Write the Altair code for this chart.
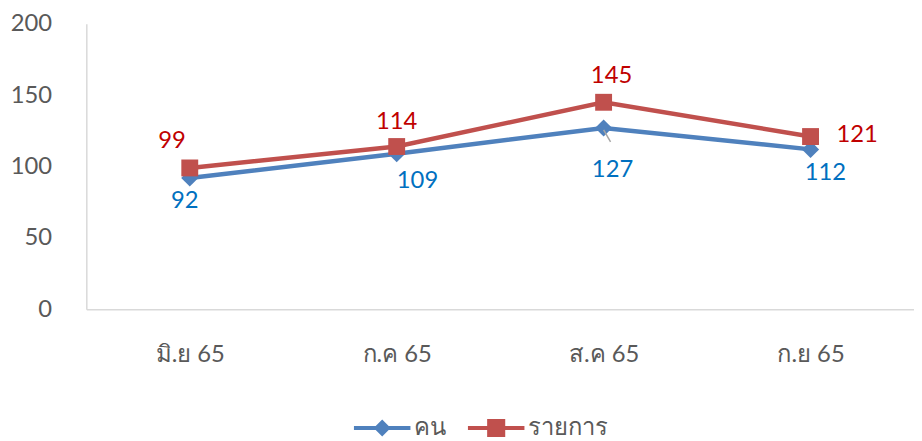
import altair as alt
import pandas as pd

months = ["มิ.ย 65", "ก.ค 65", "ส.ค 65", "ก.ย 65"]
people = [92, 109, 127, 112]      # คน
items = [99, 114, 145, 121]       # รายการ
series_names = ["คน", "รายการ"]
y_ticks = [0, 50, 100, 150, 200]

rows = []
for m, v in zip(months, people):
    rows.append({"month": m, "series": series_names[0], "value": v})
for m, v in zip(months, items):
    rows.append({"month": m, "series": series_names[1], "value": v})
df = pd.DataFrame(rows)

FONT = "Lato, Noto Sans, sans-serif"
line_colors = ["#4F81BD", "#C0504D"]
label_colors = {"คน": "#0070C0", "รายการ": "#C00000"}

diamond_legend = ("M-1,-0.07L1,-0.07L1,0.07L-1,0.07Z"
                  "M0,-0.3L0.3,0L0,0.3L-0.3,0Z")
square_legend = ("M-1,-0.07L1,-0.07L1,0.07L-1,0.07Z"
                 "M-0.32,-0.32L0.32,-0.32L0.32,0.32L-0.32,0.32Z")

legend = alt.Legend(
    title=None, orient="none", direction="horizontal",
    legendX=270, legendY=379,
    symbolSize=3249, symbolStrokeWidth=0, symbolOpacity=1,
    labelFont=FONT, labelFontSize=24, labelColor="#595959",
    labelOffset=4, columnPadding=22,
)

x_enc = alt.X("month:N", sort=months,
              scale=alt.Scale(type="point", padding=0.5),
              axis=alt.Axis(title=None, ticks=False, tickSize=0, labelAngle=0,
                            labelPadding=34, labelFont=FONT, labelFontSize=24,
                            labelColor="#595959", domainColor="#D9D9D9",
                            domainWidth=1.5, grid=False))
y_enc = alt.Y("value:Q",
              scale=alt.Scale(domain=[0, 200], nice=False),
              axis=alt.Axis(title=None, values=y_ticks, ticks=False, tickSize=0,
                            labelPadding=35, labelFont=FONT, labelFontSize=24,
                            labelColor="#595959", domainColor="#D9D9D9",
                            domainWidth=1.5, grid=False))

base = alt.Chart(df)
layers = []
for s, col, shape, size in [("คน", line_colors[0], "diamond", 300),
                            ("รายการ", line_colors[1], "square", 290)]:
    sub = base.transform_filter(alt.datum.series == s)
    layers.append(sub.mark_line(strokeWidth=4.5, color=col).encode(x=x_enc, y=y_enc))
    layers.append(sub.mark_point(shape=shape, size=size, filled=True, opacity=1, color=col)
                  .encode(x=x_enc, y=y_enc))

# legend-only layer (draws nothing: filtered to empty), shows line+marker symbols
legend_layer = (base.transform_filter("false")
                .mark_point(filled=True, opacity=1, size=3249, strokeWidth=0)
                .encode(x=x_enc, y=y_enc,
                        color=alt.Color("series:N", sort=series_names,
                                        scale=alt.Scale(domain=series_names, range=line_colors),
                                        legend=legend),
                        shape=alt.Shape("series:N", sort=series_names,
                                        scale=alt.Scale(domain=series_names,
                                                        range=[diamond_legend, square_legend]),
                                        legend=legend)))
layers.append(legend_layer)

# small leader line for the 127 label
layers.append(base.transform_filter((alt.datum.series == "คน") & (alt.datum.month == months[2]))
              .mark_rule(color="#A6A6A6", strokeWidth=1.5, yOffset=2, x2Offset=7, y2Offset=14)
              .encode(x=alt.X("month:N", sort=months), x2="month:N",
                      y="value:Q", y2="value:Q"))

def label(series, month, dx, dy):
    return (base.transform_filter((alt.datum.series == series) & (alt.datum.month == month))
            .mark_text(font=FONT, fontSize=24, dx=dx, dy=dy, color=label_colors[series],
                       align="center", baseline="middle")
            .encode(x=alt.X("month:N", sort=months), y="value:Q", text="value:Q"))

layers += [
    label("คน", months[0], -5, 23),
    label("คน", months[1], 21, 28),
    label("คน", months[2], 9, 42),
    label("คน", months[3], 15, 24),
    label("รายการ", months[0], -18, -27),
    label("รายการ", months[1], 0, -25),
    label("รายการ", months[2], 8, -26),
    label("รายการ", months[3], 47, -1),
]

chart = alt.layer(*layers).properties(
    width=835, height=288,
    autosize=alt.AutoSizeParams(type="none"),
    padding={"left": 79, "top": 14, "right": 0, "bottom": 131},
).configure_view(stroke=None)

chart.save("out.html", embed_options={"renderer": "svg", "actions": False})
